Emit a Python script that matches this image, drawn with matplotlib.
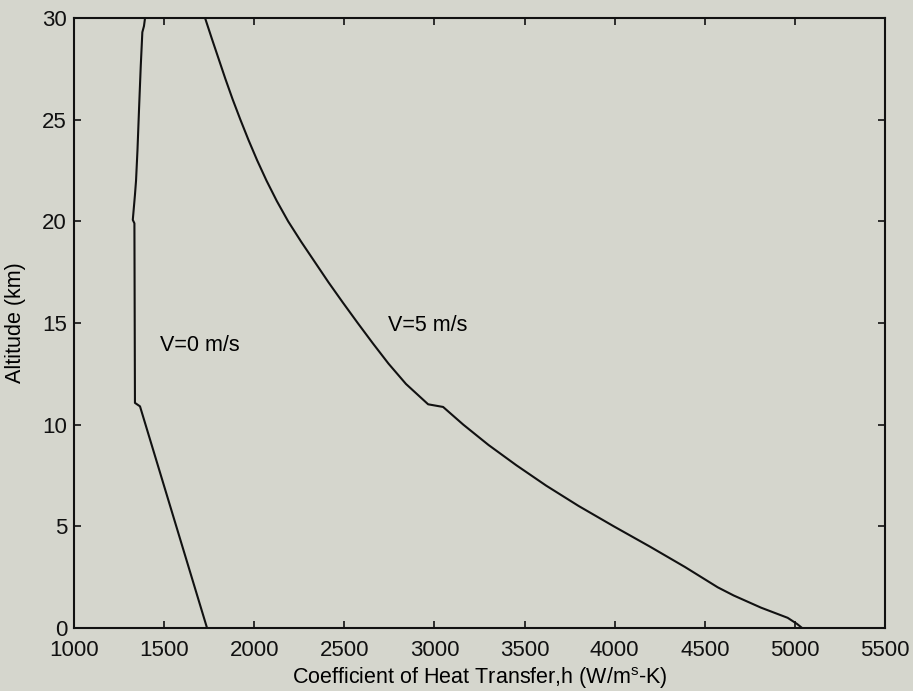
import matplotlib
matplotlib.use("Agg")
import matplotlib.pyplot as plt

plt.rcParams['font.family'] = ['Liberation Sans', 'DejaVu Sans']
plt.rcParams['mathtext.fontset'] = 'custom'
plt.rcParams['mathtext.rm'] = 'Liberation Sans'

# h vs altitude, still air
alt_v0 = [0, 10.9, 11.07, 19.9, 20.07, 21.3, 22, 23.5, 25.6, 27.6, 29.3, 29.6, 30]
h_v0 = [1738, 1366, 1338, 1335, 1326, 1338, 1344, 1352, 1361, 1370, 1379, 1388, 1394]

# h vs altitude, 5 m/s wind
alt_v5 = [0, 0.2, 0.5, 1, 1.6, 2, 3, 4, 5, 6, 7, 8, 9, 10, 10.87, 11, 12, 13, 14,
          15, 16, 17, 18, 19, 20, 21, 22, 23, 24, 25, 26, 27, 28, 29, 30]
h_v5 = [5040, 5012, 4960, 4812, 4660, 4572, 4390, 4196, 3995, 3800, 3620, 3455,
        3300, 3160, 3048, 2965, 2842, 2745, 2658, 2574, 2492, 2412, 2336, 2260,
        2188, 2125, 2068, 2016, 1968, 1923, 1880, 1840, 1802, 1764, 1727]

bg = '#d5d6cd'
fig = plt.figure(figsize=(9.13, 6.91), dpi=100, facecolor=bg)
ax = fig.add_axes([0.0811, 0.0912, 0.8882, 0.8828], facecolor=bg)

ax.plot(h_v0, alt_v0, color='#111111', lw=1.5)
ax.plot(h_v5, alt_v5, color='#111111', lw=1.5)

ax.text(1477, 13.9, 'V=0 m/s', fontsize=15.5, va='center', ha='left')
ax.text(2742, 14.9, 'V=5 m/s', fontsize=15.5, va='center', ha='left')

ax.set_xlim(1000, 5500)
ax.set_ylim(0, 30)
ax.set_xticks(range(1000, 5501, 500))
ax.set_yticks(range(0, 31, 5))
ax.tick_params(direction='in', length=5, width=1.2, top=True, right=True,
               labelsize=16, colors='#111111')
ax.tick_params(axis='x', pad=9)
ax.tick_params(axis='y', pad=5)
for s in ax.spines.values():
    s.set_linewidth(1.5)
    s.set_color('#111111')

ax.set_xlabel('Coefficient of Heat Transfer,h (W/m$^\\mathregular{s}$-K)',
              fontsize=15.5, labelpad=3)
ax.set_ylabel('Altitude (km)', fontsize=15.5, labelpad=12)

fig.savefig('out.png', dpi=100, facecolor=bg)
